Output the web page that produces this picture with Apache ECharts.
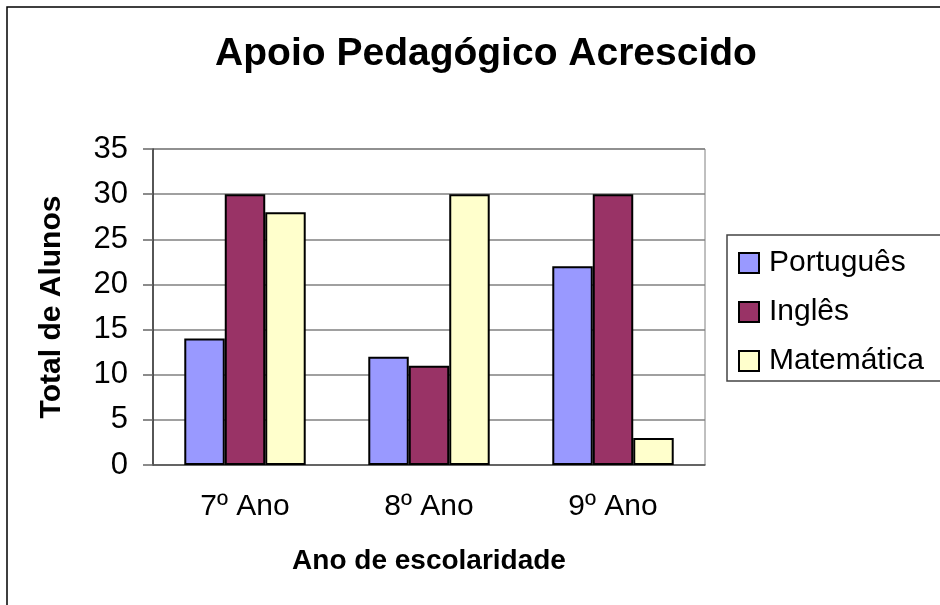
<!DOCTYPE html>
<html>
<head>
<meta charset="utf-8">
<script src="https://cdn.jsdelivr.net/npm/echarts@6/dist/echarts.min.js"></script>
<style>
  html, body { margin: 0; padding: 0; background: #fff; }
  #chart { width: 940px; height: 605px; }
</style>
</head>
<body>
<div id="chart"></div>
<script>
const categories = ['7º Ano', '8º Ano', '9º Ano'];
const portugues = [14, 12, 22];
const ingles = [30, 11, 30];
const matematica = [28, 30, 3];
const yTicks = { min: 0, max: 35, interval: 5 };

const FONT = '"Liberation Sans", Arial, sans-serif';

const chart = echarts.init(document.getElementById('chart'));

function barSeries(name, data, color) {
  return {
    name: name,
    type: 'bar',
    data: data,
    barGap: '0%',
    barCategoryGap: '34%',
    itemStyle: { color: color, borderColor: '#000', borderWidth: 2 },
    emphasis: { disabled: true }
  };
}

chart.setOption({
  animation: false,
  backgroundColor: '#fff',
  title: {
    text: 'Apoio Pedagógico Acrescido',
    left: 481,
    top: 30,
    textAlign: 'center',
    textStyle: { fontFamily: FONT, fontSize: 39, fontWeight: 'bold', color: '#000' }
  },
  legend: {
    orient: 'vertical',
    left: 738,
    top: 248,
    padding: 0,
    itemWidth: 20,
    itemHeight: 20,
    itemGap: 19,
    icon: 'rect',
    textStyle: { fontFamily: FONT, fontSize: 30, color: '#000', lineHeight: 30, padding: [0, 0, 0, 5] },
    data: ['Português', 'Inglês', 'Matemática']
  },
  grid: {
    left: 153,
    top: 149,
    width: 552,
    height: 316,
    show: true,
    borderColor: '#808080',
    borderWidth: 1
  },
  xAxis: {
    type: 'category',
    data: categories,
    name: 'Ano de escolaridade',
    nameLocation: 'middle',
    nameGap: 82,
    nameTextStyle: { fontFamily: FONT, fontSize: 28, fontWeight: 'bold', color: '#000' },
    axisLine: { lineStyle: { color: '#555', width: 1.5 } },
    axisTick: { length: 9, lineStyle: { color: '#666', width: 1.5 } },
    axisLabel: { fontFamily: FONT, fontSize: 30, color: '#000', margin: 27 }
  },
  yAxis: {
    type: 'value',
    min: yTicks.min,
    max: yTicks.max,
    interval: yTicks.interval,
    name: 'Total de Alunos',
    nameLocation: 'middle',
    nameGap: 86,
    nameTextStyle: { fontFamily: FONT, fontSize: 30, fontWeight: 'bold', color: '#000' },
    axisLine: { show: true, lineStyle: { color: '#333', width: 1.5 } },
    axisTick: { show: true, length: 10, lineStyle: { color: '#666', width: 1.5 } },
    axisLabel: { fontFamily: FONT, fontSize: 31, color: '#000', margin: 25 },
    splitLine: { lineStyle: { color: '#808080', width: 1.5 } }
  },
  series: [
    barSeries('Português', portugues, '#9999FF'),
    barSeries('Inglês', ingles, '#993366'),
    barSeries('Matemática', matematica, '#FFFFCC')
  ],
  graphic: [
    {
      type: 'rect',
      shape: { x: 7, y: 7, width: 960, height: 620 },
      style: { fill: 'none', stroke: '#000', lineWidth: 1.5 },
      silent: true
    },
    {
      type: 'rect',
      shape: { x: 727, y: 235, width: 240, height: 146 },
      style: { fill: 'none', stroke: '#444', lineWidth: 1.5 },
      silent: true
    }
  ]
});
</script>
</body>
</html>
